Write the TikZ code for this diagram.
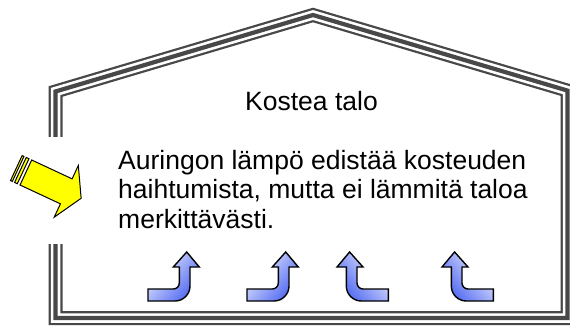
\documentclass[tikz,border=0pt]{standalone}
\usepackage{fontspec}
\setmainfont{Liberation Sans}
\definecolor{housegray}{RGB}{72,72,72}
\definecolor{sunyellow}{RGB}{255,255,0}
\definecolor{lightblue}{RGB}{236,240,255}
\definecolor{deepblue}{RGB}{78,102,240}
\tikzset{
  txt/.style={font=\fontsize{26.5}{29.5}\selectfont, inner sep=0pt},
  sunarrow/.style={fill=sunyellow, draw=black, line width=1pt, line join=miter},
  risestyle/.style={draw=black, line width=1.4pt, line join=miter},
  wall/.style={draw=housegray, line width=14pt, line join=miter,
    postaction={draw=white, line width=9.5pt, line join=miter},
    postaction={draw=housegray, line width=4.2pt, line join=miter}},
}
\newcommand{\risearrow}[3]{%
  \begin{scope}[shift={(#1,301)}, xscale=#2]
    \draw[risestyle, top color=lightblue, bottom color=deepblue, shading angle=#3]
      (0,0) -- (27,0) .. controls (35.3,0) and (42,-6.7) .. (42,-15)
      -- (42,-34) -- (51.3,-34) -- (38.7,-49) -- (25.3,-34) -- (31.3,-34)
      -- (31.3,-18) .. controls (31.3,-14.7) and (28.6,-12) .. (25.3,-12)
      -- (0,-12) -- cycle;
  \end{scope}}
\begin{document}
\begin{tikzpicture}[x=1pt, y=-1pt]
  \useasboundingbox (0,0) rectangle (570,325);
  % house outline
  \coordinate (hl) at (55.5,91.5);
  \coordinate (hp) at (313,15);
  \coordinate (hr) at (567.5,90.6);
  \coordinate (hbr) at (567.5,318);
  \coordinate (hbl) at (55.5,318);
  \path[wall] (hl) -- (hp) -- (hr) -- (hbr) -- (hbl) -- cycle;
  % white text box hiding the left wall
  \fill[white] (40,137) rectangle (80,244);
  % texts
  \node[txt, anchor=base] (title) at (311.5,110) {Kostea talo};
  \node[txt, anchor=base west] (l1) at (118,169) {Auringon lämpö edistää kosteuden};
  \node[txt, anchor=base west] (l2) at (118,198.5) {haihtumista, mutta ei lämmitä taloa};
  \node[txt, anchor=base west] (l3) at (118,228) {merkittävästi.};
  % sun arrow
  \begin{scope}[shift={(25.85,172.5)}, rotate=-25]
    \draw[sunarrow] (-10.5,-13.8) rectangle (-8.5,13.8);
    \draw[sunarrow] (-6,-13.8) rectangle (-3,13.8);
    \draw[sunarrow] (0,-13.8) -- (44.6,-13.8) -- (44.6,-28.5) -- (61,0)
      -- (44.6,28.5) -- (44.6,13.8) -- (0,13.8) -- cycle;
  \end{scope}
  % rising moisture arrows
  \risearrow{148}{1}{50}
  \risearrow{247}{1}{50}
  \risearrow{388.3}{-1}{-50}
  \risearrow{493.3}{-1}{-50}
\end{tikzpicture}
\end{document}
